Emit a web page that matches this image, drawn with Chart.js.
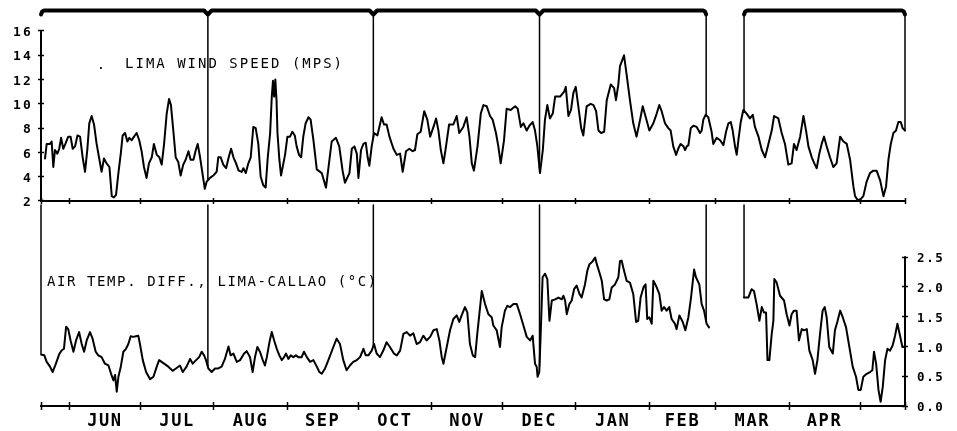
<!DOCTYPE html>
<html>
<head>
<meta charset="utf-8">
<title>Lima wind speed and air temperature difference Lima-Callao</title>
<script src="https://cdn.jsdelivr.net/npm/chart.js@4.4.1/dist/chart.umd.min.js"></script>
<style>
  html, body { margin: 0; padding: 0; background: #ffffff; }
  #box { width: 957px; height: 431px; }
  canvas { display: block; }
</style>
</head>
<body>
<div id="box"><canvas id="chart" width="957" height="431"></canvas></div>
<script>
// Day 0 = 20 May, day 365 = 19 May of the following year
const windDays = [
  1.7,2.4,3.8,4.5,5.2,5.9,6.9,7.7,8.5,9.4,
  10.3,11.5,12.5,13.4,14.4,15.4,16.5,17.6,18.6,19.6,
  20.4,21.4,22.4,23.5,24.5,25.6,26.6,27.7,28.9,29.9,
  30.8,31.7,32.7,33.7,34.5,35.5,36.5,37.3,38.3,39.3,
  40.4,41.5,42.5,43.5,44.6,45.6,46.8,47.7,48.9,50.0,
  51.0,52.0,53.1,54.1,54.9,55.9,56.9,58.0,59.0,60.1,
  61.1,62.3,63.2,64.4,65.4,66.2,67.2,68.2,69.2,70.0,
  71.4,72.8,74.2,74.9,75.9,77.0,78.2,79.3,80.3,81.3,
  82.4,83.5,84.8,85.5,86.5,87.6,88.6,89.7,90.7,91.8,
  92.8,93.9,94.9,95.8,96.8,97.5,98.0,98.5,99.0,99.5,
  99.9,100.7,101.4,102.4,103.1,104.1,105.2,106.2,107.2,108.0,
  109.0,109.9,110.8,111.8,113.0,113.9,115.1,116.5,117.9,118.6,
  120.4,122.8,124.6,126.0,127.4,128.4,130.3,131.3,132.4,133.4,
  134.1,135.2,136.2,137.2,138.0,138.7,139.7,140.7,142.1,143.9,
  144.9,146.0,147.2,148.9,150.3,151.7,152.8,154.2,155.6,157.0,
  158.0,159.0,160.4,161.9,163.2,164.4,165.8,166.9,167.9,168.9,
  170.0,171.1,172.4,174.2,175.6,176.7,178.4,179.8,181.0,182.0,
  182.9,184.4,185.8,186.9,188.3,189.7,190.8,192.2,193.2,194.2,
  195.6,196.7,198.4,200.3,201.4,202.7,203.8,205.2,206.3,207.7,
  208.7,209.7,210.8,212.0,212.9,213.9,215.0,216.2,217.2,219.3,
  221.0,221.7,222.8,223.9,224.9,225.9,227.0,228.2,229.1,230.5,
  232.2,233.4,234.5,235.5,236.6,237.9,239.0,240.7,242.1,242.9,
  243.9,244.6,246.3,247.4,248.8,250.2,251.6,253.1,254.2,255.2,
  257.0,258.7,260.1,261.2,262.2,263.6,265.0,266.0,267.1,268.3,
  269.2,270.2,271.4,272.1,272.8,273.5,274.5,275.6,277.0,278.4,
  279.1,279.8,280.8,281.9,283.3,284.0,285.4,286.9,288.3,289.4,
  290.4,291.4,292.2,293.2,293.9,294.6,295.6,296.7,298.1,299.5,
  300.7,301.6,303.1,304.5,305.9,307.3,308.7,309.7,311.5,312.9,
  314.3,315.7,317.1,318.1,319.2,320.7,322.1,323.2,324.2,325.6,
  326.7,327.7,328.8,329.8,330.8,331.9,333.3,334.7,336.1,337.6,
  339.0,340.4,341.8,342.5,343.2,343.9,344.9,346.0,347.4,348.8,
  350.2,351.6,353.0,354.5,355.9,357.0,358.0,359.0,360.1,361.2,
  362.2,363.2,364.0,365.0
];
const windValues = [
  5.5,6.7,6.7,6.9,4.8,6.2,5.9,6.3,7.2,6.3,
  6.7,7.3,7.3,6.3,6.5,7.4,7.3,5.6,4.4,6.3,
  8.4,9.0,8.3,6.7,5.6,4.4,5.5,5.1,4.8,2.4,
  2.3,2.5,4.3,5.9,7.4,7.6,6.9,7.2,7.0,7.3,
  7.6,7.0,6.1,4.8,3.9,5.1,5.6,6.7,5.8,5.6,
  5.0,6.7,9.2,10.4,9.9,7.8,5.6,5.2,4.1,5.0,
  5.4,6.1,5.4,5.4,6.2,6.7,5.6,4.3,3.0,3.6,
  3.9,4.1,4.4,5.6,5.6,5.0,4.7,5.6,6.3,5.6,
  5.1,4.5,4.4,4.7,4.3,5.1,5.6,8.1,8.0,6.7,
  4.0,3.3,3.1,5.6,7.6,10.6,11.9,10.6,12.0,10.3,
  7.6,5.4,4.1,5.1,5.8,7.3,7.3,7.7,7.4,6.5,
  5.8,5.6,7.3,8.4,8.9,8.7,7.0,4.6,4.4,4.3,
  3.1,6.9,7.2,6.5,4.5,3.5,4.3,6.3,6.5,5.9,
  3.9,6.2,6.7,6.8,5.6,4.9,6.5,7.6,7.4,8.9,
  8.3,8.3,7.3,6.3,5.8,5.9,4.4,6.1,6.3,6.1,
  6.2,7.5,7.7,9.4,8.7,7.3,8.1,8.8,7.8,6.2,
  5.1,6.5,8.3,8.3,9.0,7.6,8.1,8.9,7.3,5.1,
  4.5,6.5,9.2,9.9,9.8,9.0,8.7,7.6,6.5,5.1,
  7.0,9.6,9.5,9.8,9.6,8.1,8.4,7.8,8.2,8.5,
  7.8,6.5,4.3,6.2,8.7,9.9,8.8,9.2,10.6,10.6,
  11.0,11.4,9.0,9.5,10.9,11.4,9.8,8.0,7.4,9.8,
  10.0,9.9,9.4,7.8,7.6,7.7,10.3,11.6,11.3,10.3,
  11.6,13.1,14.0,12.4,10.3,8.4,7.3,8.7,9.8,9.1,
  7.8,8.4,9.2,9.9,9.4,8.4,8.0,7.8,6.5,5.8,
  6.3,6.7,6.5,6.2,6.5,6.6,8.0,8.2,8.1,7.6,
  7.8,8.7,9.1,8.9,7.7,6.7,7.2,7.0,6.6,7.7,
  8.4,8.5,7.8,6.5,5.8,7.0,8.5,9.5,9.2,8.8,
  9.1,8.1,7.3,6.2,5.6,6.7,7.8,9.0,8.8,7.6,
  6.7,5.0,5.1,6.7,6.2,7.3,9.0,7.8,6.5,5.6,
  5.1,4.7,5.9,6.7,7.3,6.5,5.6,4.8,5.1,7.3,
  6.9,6.7,5.4,4.3,3.2,2.4,2.1,2.1,2.4,3.6,
  4.3,4.5,4.5,3.7,2.4,3.2,5.4,6.7,7.6,7.8,
  8.5,8.5,8.0,7.8
];
const tempDays = [
  0.3,1.4,2.4,3.8,4.9,6.3,7.7,8.7,9.7,10.6,
  11.5,12.5,13.7,14.8,16.1,17.2,18.2,19.3,20.7,21.8,
  23.1,24.2,25.6,27.0,28.5,29.6,30.6,31.3,32.0,32.7,
  33.7,34.8,35.9,36.9,37.9,39.0,40.1,41.1,41.8,43.0,
  44.4,46.1,47.5,48.9,49.9,51.7,53.8,55.6,57.0,58.7,
  59.9,61.5,63.0,64.1,65.5,66.8,67.9,68.9,69.7,70.7,
  72.1,73.5,74.9,76.3,77.7,79.2,80.1,81.3,82.7,84.1,
  85.8,86.9,88.3,89.4,90.4,91.4,92.5,93.7,94.6,95.4,
  96.5,97.5,98.5,99.6,100.7,101.7,102.7,103.5,104.5,105.5,
  106.6,107.7,108.7,110.1,111.1,112.3,113.7,115.1,116.5,117.6,
  118.6,120.0,121.4,123.5,124.9,126.3,127.7,129.1,130.5,131.9,
  133.4,134.8,136.2,137.2,138.3,139.7,140.7,141.8,143.2,144.6,
  146.0,147.4,149.1,150.3,151.7,153.1,154.5,155.9,157.3,158.7,
  160.1,161.5,162.9,164.4,165.8,167.2,168.3,169.3,170.0,171.4,
  172.8,174.2,175.6,176.7,177.7,179.1,180.1,181.2,182.4,183.4,
  184.3,185.5,186.2,187.6,189.0,190.4,191.1,192.5,193.9,194.6,
  196.0,197.0,198.2,199.6,201.0,202.4,203.8,205.2,206.6,207.7,
  208.7,209.4,209.8,210.5,211.1,211.9,212.9,213.9,214.8,215.8,
  217.2,218.6,220.0,220.7,221.4,222.1,223.2,224.2,225.2,226.3,
  227.5,228.4,229.8,230.8,231.7,233.1,234.1,234.8,235.9,236.9,
  237.9,239.0,240.1,241.1,242.5,243.9,244.6,245.3,246.0,247.4,
  248.8,250.2,251.4,252.3,253.3,254.5,255.4,256.1,257.0,258.0,
  258.7,259.8,261.2,262.2,263.2,264.3,265.4,266.4,267.8,268.5,
  269.7,271.1,272.2,273.5,274.6,275.9,276.7,278.1,279.1,280.1,
  281.2,282.2,289.0,297.0,298.8,300.2,301.2,302.3,303.5,304.5,
  305.4,306.3,306.9,307.7,308.7,309.4,309.8,310.8,312.2,313.9,
  315.0,316.2,317.1,318.1,319.2,320.2,321.4,322.3,323.5,324.6,
  326.0,327.0,328.0,329.1,330.2,331.1,331.9,333.0,334.5,335.4,
  336.4,337.6,338.7,340.1,341.5,342.9,344.3,345.3,346.3,347.4,
  348.8,350.2,351.2,351.9,352.8,353.8,354.7,355.6,356.6,357.6,
  358.7,359.8,360.8,361.8,362.9,363.9,364.7
];
const tempValues = [
  0.86,0.85,0.74,0.66,0.57,0.71,0.87,0.93,0.96,1.33,
  1.29,1.10,0.91,1.10,1.24,1.04,0.91,1.10,1.24,1.13,
  0.91,0.85,0.82,0.71,0.68,0.54,0.43,0.52,0.24,0.49,
  0.66,0.91,0.96,1.04,1.17,1.16,1.17,1.18,1.04,0.77,
  0.57,0.45,0.49,0.66,0.77,0.72,0.66,0.59,0.63,0.68,
  0.57,0.66,0.79,0.71,0.77,0.82,0.91,0.85,0.77,0.63,
  0.57,0.63,0.63,0.66,0.79,1.00,0.85,0.88,0.74,0.77,
  0.88,0.92,0.82,0.57,0.82,0.99,0.91,0.77,0.68,0.82,
  1.07,1.24,1.10,0.96,0.85,0.77,0.82,0.88,0.79,0.85,
  0.82,0.85,0.82,0.82,0.91,0.82,0.74,0.77,0.66,0.57,
  0.54,0.63,0.77,0.99,1.13,1.04,0.77,0.60,0.68,0.74,
  0.77,0.82,0.96,0.85,0.85,0.93,1.04,0.88,0.82,0.93,
  1.07,0.99,0.88,0.85,0.93,1.21,1.24,1.18,1.22,1.04,
  1.07,1.18,1.10,1.16,1.27,1.29,1.10,0.82,0.71,0.99,
  1.27,1.46,1.52,1.41,1.52,1.66,1.57,1.04,0.85,0.82,
  1.21,1.66,1.93,1.71,1.54,1.49,1.35,1.27,0.99,1.32,
  1.60,1.68,1.66,1.71,1.71,1.54,1.35,1.16,1.10,1.18,
  0.71,0.66,0.49,0.57,1.21,2.16,2.22,2.13,1.43,1.77,
  1.79,1.82,1.79,1.85,1.77,1.54,1.71,1.77,1.96,2.02,
  1.88,1.82,2.04,2.27,2.38,2.43,2.49,2.38,2.24,2.10,
  1.79,1.77,1.79,1.99,2.04,2.16,2.43,2.44,2.32,2.10,
  2.07,1.88,1.41,1.43,1.82,1.99,2.04,1.46,1.49,1.38,
  2.10,2.02,1.88,1.60,1.66,1.60,1.66,1.46,1.38,1.29,
  1.52,1.41,1.27,1.49,1.82,2.29,2.16,2.04,1.71,1.60,
  1.38,1.32,null,1.82,1.82,1.96,1.93,1.71,1.43,1.66,
  1.57,1.57,0.77,0.77,1.21,1.43,2.13,2.07,1.85,1.77,
  1.54,1.35,1.54,1.60,1.60,1.10,1.29,1.27,1.29,0.93,
  0.77,0.54,0.77,1.21,1.60,1.66,1.49,0.99,0.88,1.27,
  1.41,1.60,1.49,1.32,0.99,0.66,0.49,0.27,0.27,0.49,
  0.54,0.57,0.60,0.91,0.71,0.27,0.07,0.32,0.77,0.96,
  0.93,1.02,1.18,1.38,1.18,0.99,0.99
];
const monthStarts = [0, 12, 42, 73, 104, 134, 165, 195, 226, 257, 285, 316, 346, 365];
const monthLabels = ['JUN','JUL','AUG','SEP','OCT','NOV','DEC','JAN','FEB','MAR','APR'];
const windTicks = [2, 4, 6, 8, 10, 12, 14, 16];
const tempTicks = [0, 0.5, 1.0, 1.5, 2.0, 2.5];
const recordBreaks = [70.5, 140.4, 210.6];   // joins between record pieces
const tempGap = [281, 297];                  // missing temperature record
const recordEnd = 365;

// ---------- layout / style ----------
const INK = '#000000';
const FONT = "'DejaVu Sans Mono', 'Liberation Mono', monospace";
const W = 957, H = 431;
const AREA_TOP = 6, AREA_BOTTOM = 406, LEFT_W = 41, RIGHT_W = 52;
const W_LO_PX = 201, W_HI_PX = 31;   // rows of the first / last wind tick
const T_LO_PX = 406, T_HI_PX = 257;  // rows of the first / last temperature tick
const wFirst = windTicks[0], wLast = windTicks[windTicks.length - 1];
const tFirst = tempTicks[0], tLast = tempTicks[tempTicks.length - 1];
const wPx = (W_LO_PX - W_HI_PX) / (wLast - wFirst);
const windMin = wFirst - (AREA_BOTTOM - W_LO_PX) / wPx;
const windMax = wLast + (W_HI_PX - AREA_TOP) / wPx;
const tPx = (T_LO_PX - T_HI_PX) / (tLast - tFirst);
const tempMin = tFirst - (AREA_BOTTOM - T_LO_PX) / tPx;
const tempMax = tLast + (T_HI_PX - AREA_TOP) / tPx;
const dayPx = (W - LEFT_W - RIGHT_W) / recordEnd;

const wAtRow = px => wLast + (W_HI_PX - px) / wPx;       // wind-axis value of a pixel row
const tAtRow = px => tFirst + (T_LO_PX - px) / tPx;      // temp-axis value of a pixel row

const bracketLevel = wAtRow(10.5);
const bracketDip = wAtRow(14.5);
const bracketBend = wAtRow(11.5);
const lowerMarkTop = tAtRow(205);

function valueAt(days, vals, d) {
  for (let i = 0; i < days.length - 1; i++) {
    if (vals[i] == null || vals[i + 1] == null) continue;
    if (d >= days[i] && d <= days[i + 1]) {
      const t = (d - days[i]) / (days[i + 1] - days[i]);
      return vals[i] + t * (vals[i + 1] - vals[i]);
    }
  }
  let bi = 0, bd = Infinity;
  days.forEach((x, i) => { if (vals[i] != null && Math.abs(x - d) < bd) { bd = Math.abs(x - d); bi = i; } });
  return vals[bi];
}

function bracketRun(a, b, notches) {
  const pts = [{x: a, y: bracketDip}, {x: a + 0.5, y: bracketBend}, {x: a + 1.3, y: bracketLevel}];
  notches.forEach(n => pts.push({x: n - 1.6, y: bracketLevel}, {x: n, y: bracketDip}, {x: n + 1.6, y: bracketLevel}));
  pts.push({x: b - 1.3, y: bracketLevel}, {x: b - 0.5, y: bracketBend}, {x: b, y: bracketDip});
  return pts;
}

const windPts = windDays.map((d, i) => ({x: d, y: windValues[i]}));
const tempPts = tempDays.map((d, i) => ({x: d, y: tempValues[i]}));
const bracketPts = [
  ...bracketRun(0, tempGap[0], recordBreaks),
  {x: (tempGap[0] + tempGap[1]) / 2, y: null},
  ...bracketRun(tempGap[1], recordEnd, [])
];
const upperMarks = [];
[...recordBreaks, tempGap[0], tempGap[1], recordEnd].forEach(d => {
  upperMarks.push({x: d, y: bracketDip}, {x: d, y: valueAt(windDays, windValues, d)}, {x: d, y: null});
});
const lowerMarks = [];
[0, ...recordBreaks, tempGap[0], tempGap[1]].forEach(d => {
  lowerMarks.push({x: d, y: lowerMarkTop}, {x: d, y: valueAt(tempDays, tempValues, d)}, {x: d, y: null});
});
const windAxisLine = [{x: 0, y: wFirst}, {x: 0, y: wLast}];
const tempAxisLine = [{x: recordEnd, y: tFirst}, {x: recordEnd, y: tLast}];
const monthMids = monthLabels.map((_, i) => (monthStarts[i + 1] + monthStarts[i + 2]) / 2);

const panelTexts = [
  {text: 'LIMA WIND SPEED (MPS)', day: 35.5, axis: 'yW', value: wAtRow(67.7), spacing: 2.0},
  {text: '.', day: 23.6, axis: 'yW', value: wAtRow(68.5), spacing: 0},
  {text: 'AIR TEMP. DIFF., LIMA-CALLAO (\u00B0C)', day: 2.5, axis: 'yT', value: tAtRow(286), spacing: 1.6}
];

const plotterText = {
  id: 'plotterText',
  beforeDraw(chart) { chart.ctx.letterSpacing = '2.2px'; },        // left axis labels
  afterDatasetsDraw(chart) { chart.ctx.letterSpacing = '1.6px'; }, // right axis + month labels
  afterDraw(chart) {
    const {ctx, scales} = chart;
    ctx.save();
    ctx.fillStyle = INK;
    ctx.font = '14px ' + FONT;
    ctx.textAlign = 'left';
    ctx.textBaseline = 'alphabetic';
    panelTexts.forEach(t => {
      ctx.letterSpacing = t.spacing + 'px';
      ctx.fillText(t.text, scales.x.getPixelForValue(t.day), scales[t.axis].getPixelForValue(t.value));
    });
    ctx.restore();
    ctx.letterSpacing = '0px';
  }
};

const lineDs = (data, axis, width, extra) => Object.assign({
  data, yAxisID: axis, xAxisID: 'x', borderColor: INK, backgroundColor: INK,
  borderWidth: width, pointRadius: 0, tension: 0, spanGaps: false, fill: false,
  borderJoinStyle: 'round', borderCapStyle: 'round', clip: false
}, extra || {});

const boundaryTicks = s => { s.ticks = monthStarts.map(v => ({value: v})); };
const noPad = s => { s.paddingLeft = 0; s.paddingRight = 0; s.paddingTop = 0; s.paddingBottom = 0; };
const tickMarks = len => ({display: true, drawOnChartArea: false, drawTicks: true, tickLength: len, tickColor: INK, tickWidth: 1.5, color: INK});

new Chart(document.getElementById('chart'), {
  type: 'line',
  data: {
    datasets: [
      lineDs(windAxisLine, 'yW', 2),
      lineDs(tempAxisLine, 'yT', 2),
      lineDs(bracketPts, 'yW', 4),
      lineDs(upperMarks, 'yW', 1.5),
      lineDs(lowerMarks, 'yT', 1.5),
      lineDs(windPts, 'yW', 2),
      lineDs(tempPts, 'yT', 2)
    ]
  },
  options: {
    responsive: false,
    maintainAspectRatio: false,
    animation: false,
    devicePixelRatio: 1,
    events: [],
    layout: {padding: {top: AREA_TOP, left: 0, right: 0, bottom: 0}},
    plugins: {legend: {display: false}, tooltip: {enabled: false}, title: {display: false}},
    scales: {
      x: {
        type: 'linear', position: 'bottom', min: 0, max: recordEnd,
        afterBuildTicks: s => { s.ticks = monthMids.map(v => ({value: v})); },
        ticks: {
          autoSkip: false, maxRotation: 0, minRotation: 0, padding: 5, z: 1, color: INK,
          font: {family: FONT, size: 17, weight: 'bold'},
          callback: (v, i) => monthLabels[i]
        },
        grid: {display: false, drawTicks: false},
        border: {display: true, color: INK, width: 2},
        afterFit: s => { s.height = H - AREA_BOTTOM; noPad(s); }
      },
      xTopLine: {
        type: 'linear', axis: 'x', position: {yW: wFirst}, min: 0, max: recordEnd,
        afterBuildTicks: boundaryTicks,
        ticks: {display: false}, grid: {display: false, drawTicks: false},
        border: {display: true, color: INK, width: 2},
        afterFit: noPad
      },
      xTopTicks: {
        type: 'linear', axis: 'x', position: {yW: wFirst + 3 / wPx}, min: 0, max: recordEnd,
        afterBuildTicks: boundaryTicks,
        ticks: {display: false}, grid: tickMarks(6), border: {display: false},
        afterFit: noPad
      },
      xBottomTicks: {
        type: 'linear', axis: 'x', position: {yT: tFirst + 4 / tPx}, min: 0, max: recordEnd,
        afterBuildTicks: boundaryTicks,
        ticks: {display: false}, grid: tickMarks(8), border: {display: false},
        afterFit: noPad
      },
      yW: {
        type: 'linear', position: 'left', min: windMin, max: windMax,
        afterBuildTicks: s => { s.ticks = windTicks.map(v => ({value: v})); },
        ticks: {
          autoSkip: false, padding: 8, labelOffset: 1.8, color: INK,
          font: {family: FONT, size: 13, weight: 'bold'},
          callback: v => String(v)
        },
        grid: {display: false, drawTicks: false},
        border: {display: false},
        afterFit: s => { s.width = LEFT_W; noPad(s); }
      },
      yWTicks: {
        type: 'linear', axis: 'y', position: {x: 3 / dayPx}, min: windMin, max: windMax,
        afterBuildTicks: s => { s.ticks = windTicks.map(v => ({value: v})); },
        ticks: {display: false}, grid: tickMarks(6), border: {display: false},
        afterFit: noPad
      },
      yT: {
        type: 'linear', position: 'right', min: tempMin, max: tempMax,
        afterBuildTicks: s => { s.ticks = tempTicks.map(v => ({value: v})); },
        ticks: {
          autoSkip: false, padding: 12, labelOffset: 2, z: 1, color: INK,
          font: {family: FONT, size: 12.5, weight: 'bold'},
          callback: v => Number(v).toFixed(1)
        },
        grid: {display: false, drawTicks: false},
        border: {display: false},
        afterFit: s => { s.width = RIGHT_W; noPad(s); }
      },
      yTTicks: {
        type: 'linear', axis: 'y', position: {x: recordEnd + 3 / dayPx}, min: tempMin, max: tempMax,
        afterBuildTicks: s => { s.ticks = tempTicks.map(v => ({value: v})); },
        ticks: {display: false}, grid: tickMarks(6), border: {display: false},
        afterFit: noPad
      }
    }
  },
  plugins: [plotterText]
});
</script>
</body>
</html>
